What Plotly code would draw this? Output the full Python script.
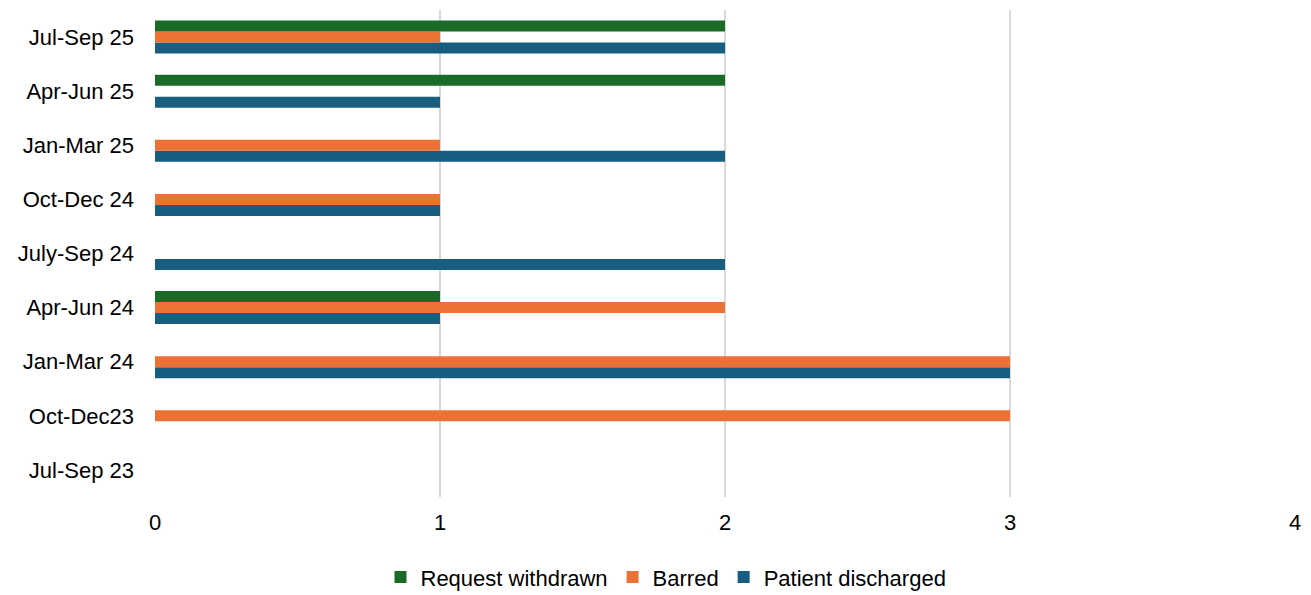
import plotly.graph_objects as go

quarters = ["Jul-Sep 23", "Oct-Dec23", "Jan-Mar 24", "Apr-Jun 24", "July-Sep 24",
            "Oct-Dec 24", "Jan-Mar 25", "Apr-Jun 25", "Jul-Sep 25"]
patient_discharged = [0, 0, 3, 1, 2, 1, 2, 1, 2]
barred = [0, 3, 3, 2, 0, 1, 1, 0, 1]
request_withdrawn = [0, 0, 0, 1, 0, 0, 0, 2, 2]

font = dict(family="Liberation Sans, Arial, sans-serif", size=22, color="#000000")

fig = go.Figure()
fig.add_trace(go.Bar(y=quarters, x=patient_discharged, orientation="h",
                     name="Patient discharged", marker=dict(color="#175e80", line=dict(width=0))))
fig.add_trace(go.Bar(y=quarters, x=barred, orientation="h",
                     name="Barred", marker=dict(color="#eb7233", line=dict(width=0))))
fig.add_trace(go.Bar(y=quarters, x=request_withdrawn, orientation="h",
                     name="Request withdrawn", marker=dict(color="#1a6b25", line=dict(width=0))))

fig.update_layout(
    width=1311, height=595,
    barmode="group", bargap=0.39, bargroupgap=0,
    plot_bgcolor="white", paper_bgcolor="white",
    font=font,
    margin=dict(l=155, r=16, t=10, b=98),
    showlegend=True,
    legend=dict(orientation="h", traceorder="reversed", xref="container", yref="container",
                x=0.508, xanchor="center", y=0.03, yanchor="middle",
                font=dict(size=22), itemwidth=30, tracegroupgap=0),
    xaxis=dict(range=[0, 4], dtick=1, showgrid=True, gridcolor="#d9d9d9", gridwidth=2,
               zeroline=False, showline=False, ticks="", ticklabelstandoff=10),
    yaxis=dict(categoryorder="array", categoryarray=quarters, showgrid=False,
               showline=False, ticks="", ticklabelstandoff=20),
)

fig.write_html("out.html")
